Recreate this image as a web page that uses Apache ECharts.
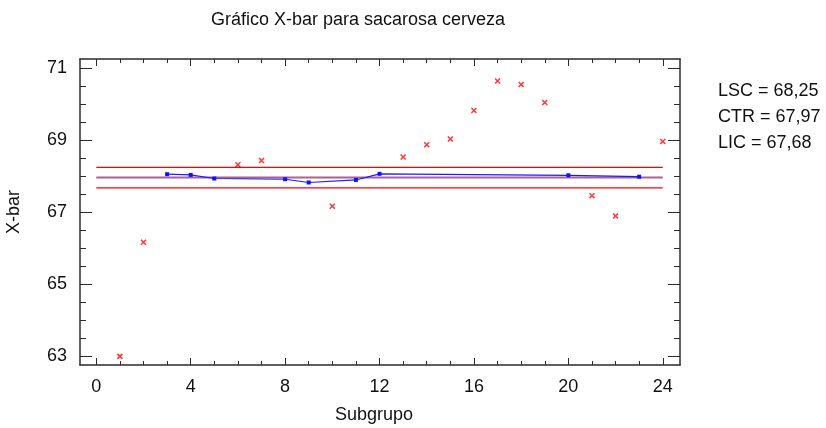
<!DOCTYPE html>
<html>
<head>
<meta charset="utf-8">
<script src="https://cdn.jsdelivr.net/npm/echarts@6/dist/echarts.min.js"></script>
<style>html,body{margin:0;padding:0;background:#fff}#c{width:826px;height:428px}</style>
</head>
<body>
<div id="c"></div>
<script>
const subgroups = [1,2,3,4,5,6,7,8,9,10,11,12,13,14,15,16,17,18,19,20,21,22,23,24];
const xbar = [63.00, 66.17, 68.06, 68.04, 67.94, 68.32, 68.44, 67.92, 67.83, 67.17, 67.90, 68.07,
              68.54, 68.88, 69.04, 69.83, 70.65, 70.55, 70.05, 68.03, 67.46, 66.90, 67.99, 68.97];
const excluded = [1,1,0,0,0,1,1,0,0,1,0,0,1,1,1,1,1,1,1,0,1,1,0,1];
const limitNames = ['LSC', 'CTR', 'LIC'];
const limitValues = [68.25, 67.97, 67.68];
const limitLabels = ['68,25', '67,97', '67,68'];
const limitSpan = [0, 24];
const xMajorTicks = [0, 4, 8, 12, 16, 20, 24];
const xMinorTicks = [0,1,2,3,4,5,6,7,8,9,10,11,12,13,14,15,16,17,18,19,20,21,22,23,24];
const yMajorTicks = [63, 65, 67, 69, 71];
const yMinorTicks = [63,63.5,64,64.5,65,65.5,66,66.5,67,67.5,68,68.5,69,69.5,70,70.5,71];
const titleText = 'Gráfico X-bar para sacarosa cerveza';
const xName = 'Subgrupo';
const yName = 'X-bar';

const FONT = 'Liberation Sans, Arial, sans-serif';
const XMIN = -0.69, XMAX = 24.73, YMIN = 62.76, YMAX = 71.26;

function xAxisDef(pos, ticks, len, showLine, showLabel) {
  return {
    type: 'value', position: pos, min: XMIN, max: XMAX,
    axisLine: {show: showLine, onZero: false, lineStyle: {color: '#2b2b2b', width: 1.5}},
    axisTick: {show: true, inside: true, length: len, customValues: ticks, lineStyle: {color: '#2b2b2b', width: 1}},
    axisLabel: {show: showLabel, customValues: xMajorTicks, margin: 13, color: '#111', fontSize: 18, fontFamily: FONT},
    splitLine: {show: false}
  };
}
function yAxisDef(pos, ticks, len, showLine, showLabel) {
  return {
    type: 'value', position: pos, min: YMIN, max: YMAX,
    axisLine: {show: showLine, onZero: false, lineStyle: {color: '#2b2b2b', width: 1.5}},
    axisTick: {show: true, inside: true, length: len, customValues: ticks, lineStyle: {color: '#2b2b2b', width: 1}},
    axisLabel: {show: showLabel, customValues: yMajorTicks, margin: 13, color: '#111', fontSize: 18, fontFamily: FONT},
    splitLine: {show: false}
  };
}

const incData = [], excData = [];
subgroups.forEach((s, i) => {
  if (excluded[i]) excData.push([s, xbar[i]]); else incData.push([s, xbar[i]]);
});

const limitColors = ['#ff0000', '#a8638f', '#ff0000'];
const limitWidths = [1.3, 2, 1.3];
const limitSeries = limitValues.map((v, i) => ({
  type: 'line', xAxisIndex: 0, yAxisIndex: 0, symbol: 'none', silent: true, z: 1,
  lineStyle: {color: limitColors[i], width: limitWidths[i]},
  data: [[limitSpan[0], v], [limitSpan[1], v]]
}));

const chart = echarts.init(document.getElementById('c'), null, {renderer: 'canvas'});
chart.setOption({
  animation: false,
  backgroundColor: '#fff',
  title: {text: titleText, left: 211, top: 11, padding: 0,
    textStyle: {fontSize: 18, fontWeight: 'normal', color: '#111', fontFamily: FONT}},
  grid: {left: 80, top: 59, right: 146, bottom: 63, containLabel: false},
  xAxis: [
    xAxisDef('bottom', xMajorTicks, 7, true, true),
    xAxisDef('bottom', xMinorTicks, 4, false, false),
    xAxisDef('top', xMajorTicks, 7, true, false),
    xAxisDef('top', xMinorTicks, 4, false, false)
  ],
  yAxis: [
    yAxisDef('left', yMajorTicks, 12, true, true),
    yAxisDef('left', yMinorTicks, 6, false, false),
    yAxisDef('right', yMajorTicks, 12, true, false),
    yAxisDef('right', yMinorTicks, 6, false, false)
  ],
  graphic: [
    {type: 'text', left: 335, top: 406, style: {text: xName, fontSize: 18, fontFamily: FONT, fill: '#111'}},
    {type: 'text', left: 5, top: 190, rotation: Math.PI / 2, style: {text: yName, fontSize: 18, fontFamily: FONT, fill: '#111'}, originX: 0, originY: 0},
    ...limitNames.map((n, i) => ({
      type: 'text', left: 718, top: 82 + i * 26,
      style: {text: n + ' = ' + limitLabels[i], fontSize: 18, fontFamily: FONT, fill: '#111'}
    }))
  ],
  series: [
    ...limitSeries,
    {type: 'line', xAxisIndex: 0, yAxisIndex: 0, data: incData, z: 3,
     symbol: 'rect', symbolSize: 4, itemStyle: {color: '#1010ff'},
     lineStyle: {color: '#1a1aff', width: 1.2}},
    {type: 'scatter', xAxisIndex: 0, yAxisIndex: 0, data: excData, z: 3,
     symbol: 'path://M0,0L10,10M10,0L0,10', symbolSize: 5,
     itemStyle: {color: 'rgba(0,0,0,0)', borderColor: '#ff0000', borderWidth: 1.5}}
  ]
});
</script>
</body>
</html>
